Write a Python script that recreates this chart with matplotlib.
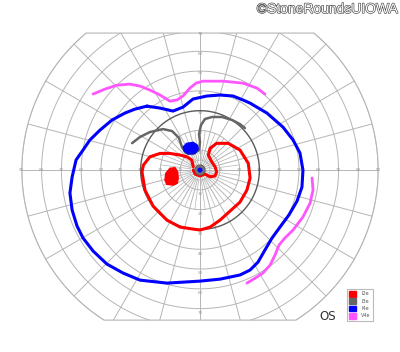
import numpy as np
import matplotlib
matplotlib.use("Agg")
import matplotlib.pyplot as plt
from matplotlib.patches import Polygon, Circle, Patch
import matplotlib.patheffects as pe

# Goldmann visual field, left eye (OS)
# all isopter points in degrees: x to the right, y up, fixation at (0, 0)

# I2e isopter (red, closed)
i2e_x = [-3.4, -4.2, -6.7, -10.1, -15.2, -20.2, -25.3, -28.6, -29.3, -27.8, -23.7, -16.7, -10.1,
         -3.5, 0.0, 5.1, 10.1, 15.2, 20.2, 23.7, 25.3, 24.4, 20.2, 14.3, 8.4, 5.1, 4.2, 5.9, 7.6,
         8.4, 7.6, 5.1, 2.5, 0.0, -2.5, -3.4]
i2e_y = [1.7, 5.1, 6.7, 7.6, 8.4, 8.4, 6.7, 2.5, -1.0, -10.1, -18.2, -25.3, -28.8,
         -29.8, -30.3, -28.8, -25.3, -20.7, -16.2, -10.1, -4.0, 3.4, 10.1, 13.5, 13.5, 11.0, 7.6, 4.2, 1.7,
         -0.9, -3.0, -3.4, -2.0, -3.0, -2.0, 0.0]

# I2e blind spot (red, filled)
spot_x = [-15.2, -12.6, -11.3, -11.0, -11.5, -13.5, -16.8, -17.7, -17.3]
spot_y = [0.9, 1.2, -0.9, -4.2, -6.7, -7.6, -7.2, -5.1, -1.7]

# I3e isopter (gray, open)
i3e_x = [-34.3, -30.3, -25.3, -18.7, -14.1, -10.6, -9.1, -7.1, -3.5, -0.5, 0.0, -0.5, 0.5,
         2.5, 6.1, 11.1, 16.2, 20.2, 22.7]
i3e_y = [13.6, 16.7, 19.2, 20.7, 19.7, 16.2, 11.6, 8.6, 8.1, 10.1, 14.1, 18.2, 22.7,
         25.8, 26.8, 26.8, 25.3, 23.2, 21.2]

# I4e isopter (blue, closed)
i4e_x = [-26.8, -20.2, -13.6, -8.6, -3.5, 3.5, 10.1, 16.7, 21.7, 25.3, 33.8, 41.9, 47.0, 50.5,
         52.0, 51.5, 49.0, 44.9, 40.4, 36.4, 32.8, 29.3, 25.3, 20.2, 10.1, 0.0, -16.7, -30.3,
         -38.9, -47.0, -54.0, -59.1, -62.1, -64.6, -65.7, -64.6, -62.6, -59.1, -55.6, -50.5,
         -44.4, -37.9, -32.8, -26.8]
i4e_y = [32.3, 31.3, 29.8, 31.8, 35.9, 37.4, 37.9, 37.4, 35.4, 33.8, 28.8, 21.7, 15.2, 8.6,
         0.0, -8.6, -15.7, -22.7, -28.8, -34.3, -40.4, -46.5, -50.5, -53.0, -55.1, -56.1, -57.1, -55.6,
         -52.0, -47.5, -40.9, -34.3, -28.3, -20.2, -11.6, -3.5, 5.1, 10.1, 15.2, 20.2,
         25.3, 28.8, 30.8, 32.3]

# I4e small island above fixation (blue, filled)
isl_x = [-6.7, -3.4, -1.4, -0.9, -2.5, -5.9, -8.1, -8.4]
isl_y = [13.5, 14.0, 12.6, 10.5, 8.4, 8.1, 9.7, 11.8]

# V4e isopter, superior and nasal-inferior pieces (magenta, open)
v4e_top_x = [-54.0, -48.0, -41.9, -35.4, -30.3, -25.3, -20.2, -15.2, -11.6, -8.6, -5.1, -2.0,
             1.5, 11.6, 21.7, 28.8, 32.8]
v4e_top_y = [38.4, 40.9, 42.9, 43.4, 42.4, 40.4, 37.9, 34.8, 35.4, 37.4, 41.4, 43.9,
             44.9, 44.9, 43.9, 41.4, 38.4]
v4e_low_x = [56.6, 57.1, 55.6, 52.0, 47.0, 42.9, 39.9, 37.9, 35.4, 31.8, 28.8, 23.7]
v4e_low_y = [-4.0, -10.1, -16.7, -23.7, -30.3, -34.3, -37.9, -42.9, -48.0, -52.0, -54.0, -57.1]

# fixation marks
fix_ring = 2.6
fix_dot = 1.3

# chart net
rings = [10, 20, 30, 40, 50, 60, 70, 80, 90]
meridians = np.arange(0, 360, 15)
inner_meridians = np.arange(7.5, 360, 15)
top_lim = 69.2
bottom_lim = -75.8
h_labels = [10, 20, 30, 40, 50, 60, 70, 80, 90]
v_labels = [10, 20, 30, 40, 50, 60, 70]

legend_names = ["I2e", "I3e", "I4e", "V4e"]
legend_colors = ["#ff0000", "#666666", "#0000ff", "#ff55ff"]

grid_col = "#b5b5b5"

fig = plt.figure(figsize=(4, 3.52), dpi=100)
ax = fig.add_axes([0, 0, 1, 1])
ax.set_xlim(-101.0, 101.0)
ax.set_ylim(-91.9, 85.9)
ax.set_aspect("equal")
ax.axis("off")

# outline of the chart, also used to clip the net
t = np.linspace(0, 2 * np.pi, 1441)
bx = 90 * np.cos(t)
by = np.clip(90 * np.sin(t), bottom_lim, top_lim)
border = Polygon(np.column_stack([bx, by]), closed=True, fill=False,
                 edgecolor=grid_col, lw=0.8, zorder=1)
ax.add_patch(border)

for r in rings:
    if r == 30:
        ln, = ax.plot(r * np.cos(t), r * np.sin(t), color="#5a5a5a", lw=1.0, zorder=2)
    else:
        ln, = ax.plot(r * np.cos(t), r * np.sin(t), color=grid_col, lw=0.7, zorder=1)
    ln.set_clip_path(border)

ax.plot(5 * np.cos(t), 5 * np.sin(t), color=grid_col, lw=0.5, zorder=1)
for a in np.radians(meridians):
    ln, = ax.plot([0, 90 * np.cos(a)], [0, 90 * np.sin(a)], color=grid_col, lw=0.7, zorder=1)
    ln.set_clip_path(border)
for a in np.radians(inner_meridians):
    ax.plot([5 * np.cos(a), 20 * np.cos(a)], [5 * np.sin(a), 20 * np.sin(a)],
            color=grid_col, lw=0.5, zorder=1)

for r in h_labels:
    for s in (-1, 1):
        ax.text(s * r, 0, str(r), fontsize=3, color="#999999", ha="center", va="center", zorder=1.5)
for r in v_labels:
    ax.text(0, r - 1.2, str(r), fontsize=3, color="#999999", ha="center", va="center", zorder=1.5)
    ax.text(0, -r - 2.2, str(r), fontsize=3, color="#999999", ha="center", va="center", zorder=1.5)

# isopters
kw = dict(solid_joinstyle="round", solid_capstyle="round", zorder=5)
ax.plot(v4e_top_x, v4e_top_y, color=legend_colors[3], lw=2.0, **kw)
ax.plot(v4e_low_x, v4e_low_y, color=legend_colors[3], lw=2.0, **kw)
ax.plot(i4e_x, i4e_y, color=legend_colors[2], lw=2.2, **kw)
ax.plot(i3e_x, i3e_y, color=legend_colors[1], lw=1.8, **kw)
ax.plot(i2e_x, i2e_y, color=legend_colors[0], lw=2.2, **kw)

ax.add_patch(Polygon(np.column_stack([spot_x, spot_y]), closed=True,
                     facecolor=legend_colors[0], edgecolor=legend_colors[0], lw=1, zorder=6))
ax.add_patch(Polygon(np.column_stack([isl_x, isl_y]), closed=True,
                     facecolor=legend_colors[2], edgecolor=legend_colors[2], lw=1, zorder=6))
ax.add_patch(Circle((0, 0), fix_ring, facecolor="#777777", edgecolor="#555555", lw=0.6, zorder=6))
ax.add_patch(Circle((0, 0), fix_dot, facecolor=legend_colors[2], edgecolor="none", zorder=7))

handles = [Patch(facecolor=c, edgecolor=c) for c in legend_colors]
leg = ax.legend(handles, legend_names, loc="lower right", bbox_to_anchor=(373 / 400, 31 / 352),
                bbox_transform=fig.transFigure, fontsize=3.5, frameon=True, fancybox=False,
                edgecolor="#aaaaaa", handlelength=1.4, handleheight=1.4, borderpad=0.5,
                labelspacing=0.35, handletextpad=1.0, borderaxespad=0)
leg.get_frame().set_linewidth(0.8)
for txt in leg.get_texts():
    txt.set_color("#555555")

fig.text(328 / 400, 1 - 317 / 352, "OS", fontsize=8.5, color="#333333", ha="center", va="center")
fig.text(398 / 400, 1 - 9 / 352, "\u00a9StoneRoundsUIOWA", fontsize=10, family="Liberation Sans",
         color="white", ha="right", va="center",
         path_effects=[pe.withStroke(linewidth=0.9, foreground="#444444")])

fig.savefig("out.png", dpi=100)
